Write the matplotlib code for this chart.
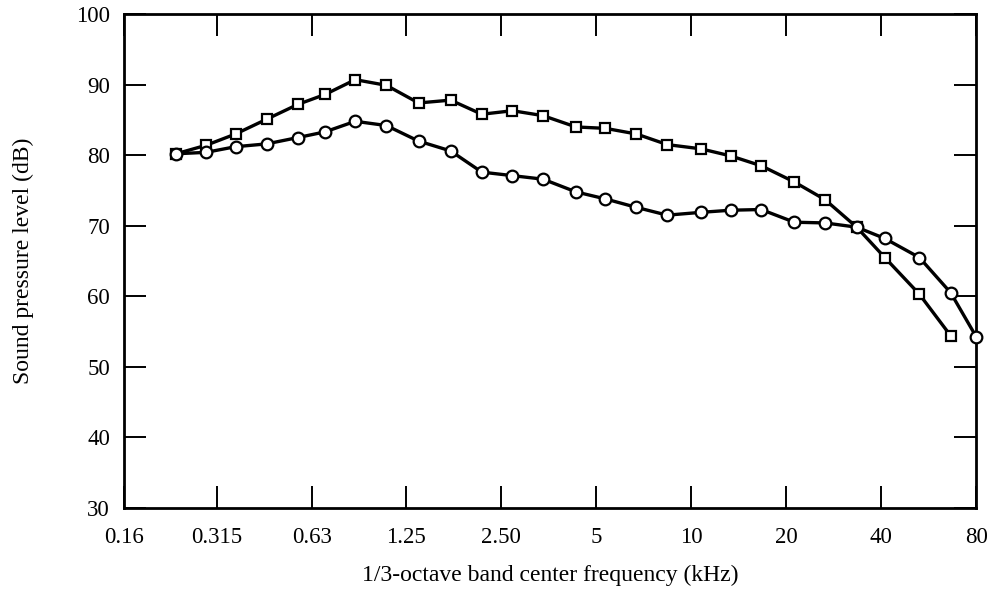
import matplotlib
matplotlib.use("Agg")
import matplotlib.pyplot as plt
from matplotlib.ticker import FixedLocator, NullLocator

# Band positions (kHz) as they sit on the drawn log axis
# (the nominal bands are 0.2 ... 80 kHz, plotted slightly right of the ticks)
freq_squares = [0.234, 0.291, 0.361, 0.453, 0.569, 0.693, 0.864, 1.084, 1.371,
                1.733, 2.175, 2.72, 3.40, 4.32, 5.36, 6.72, 8.41, 10.75, 13.35,
                16.69, 21.26, 26.58, 33.49, 41.1, 52.9, 66.5]
spl_squares = [80.2, 81.4, 83.0, 85.1, 87.2, 88.6, 90.7, 89.9, 87.4, 87.8, 85.8, 86.3,
               85.6, 84.0, 83.8, 83.0, 81.5, 80.9, 79.9, 78.5, 76.2, 73.7, 69.8,
               65.5, 60.3, 54.4]

freq_circles = [0.234, 0.291, 0.361, 0.453, 0.569, 0.693, 0.864, 1.084, 1.371,
                1.733, 2.175, 2.72, 3.40, 4.32, 5.36, 6.72, 8.41, 10.75, 13.35,
                16.69, 21.26, 26.58, 33.49, 41.1, 52.9, 66.5, 80.0]
spl_circles = [80.2, 80.4, 81.2, 81.6, 82.5, 83.3, 84.8, 84.2, 82.0, 80.6, 77.6, 77.1,
               76.6, 74.8, 73.8, 72.6, 71.5, 71.9, 72.2, 72.3, 70.5, 70.4, 69.8,
               68.2, 65.5, 60.5, 54.3]

x_ticks = [0.16, 0.315, 0.63, 1.25, 2.5, 5, 10, 20, 40, 80]
x_ticklabels = ["0.16", "0.315", "0.63", "1.25", "2.50", "5", "10", "20", "40", "80"]
y_ticks = [30, 40, 50, 60, 70, 80, 90, 100]

plt.rcParams["font.family"] = ["Liberation Serif", "DejaVu Serif"]

fig = plt.figure(figsize=(9.96, 5.97), dpi=100)
ax = fig.add_axes([0.1245, 0.149, 0.8555, 0.8275])

line_kw = dict(color="black", linewidth=2.4, markerfacecolor="white",
               markeredgecolor="black", markeredgewidth=1.6, clip_on=False)
ax.plot(freq_squares, spl_squares, marker="s", markersize=7.6, zorder=3, **line_kw)
ax.plot(freq_circles, spl_circles, marker="o", markersize=8.4, zorder=4, **line_kw)

ax.set_xscale("log")
ax.set_xlim(0.16, 80)
ax.set_ylim(30, 100)
ax.xaxis.set_major_locator(FixedLocator(x_ticks))
ax.xaxis.set_minor_locator(NullLocator())
ax.set_xticklabels(x_ticklabels)
ax.set_yticks(y_ticks)

ax.tick_params(axis="both", which="major", direction="in", length=16, width=1.4,
               labelsize=16.5, top=True, right=True, color="black")
ax.tick_params(axis="x", pad=14)
ax.tick_params(axis="y", pad=10)

for spine in ax.spines.values():
    spine.set_linewidth(2.0)

ax.set_xlabel("1/3-octave band center frequency (kHz)", fontsize=17, labelpad=12)
ax.set_ylabel("Sound pressure level (dB)", fontsize=17, labelpad=30)

fig.savefig("out.png", dpi=100)
plt.close(fig)
